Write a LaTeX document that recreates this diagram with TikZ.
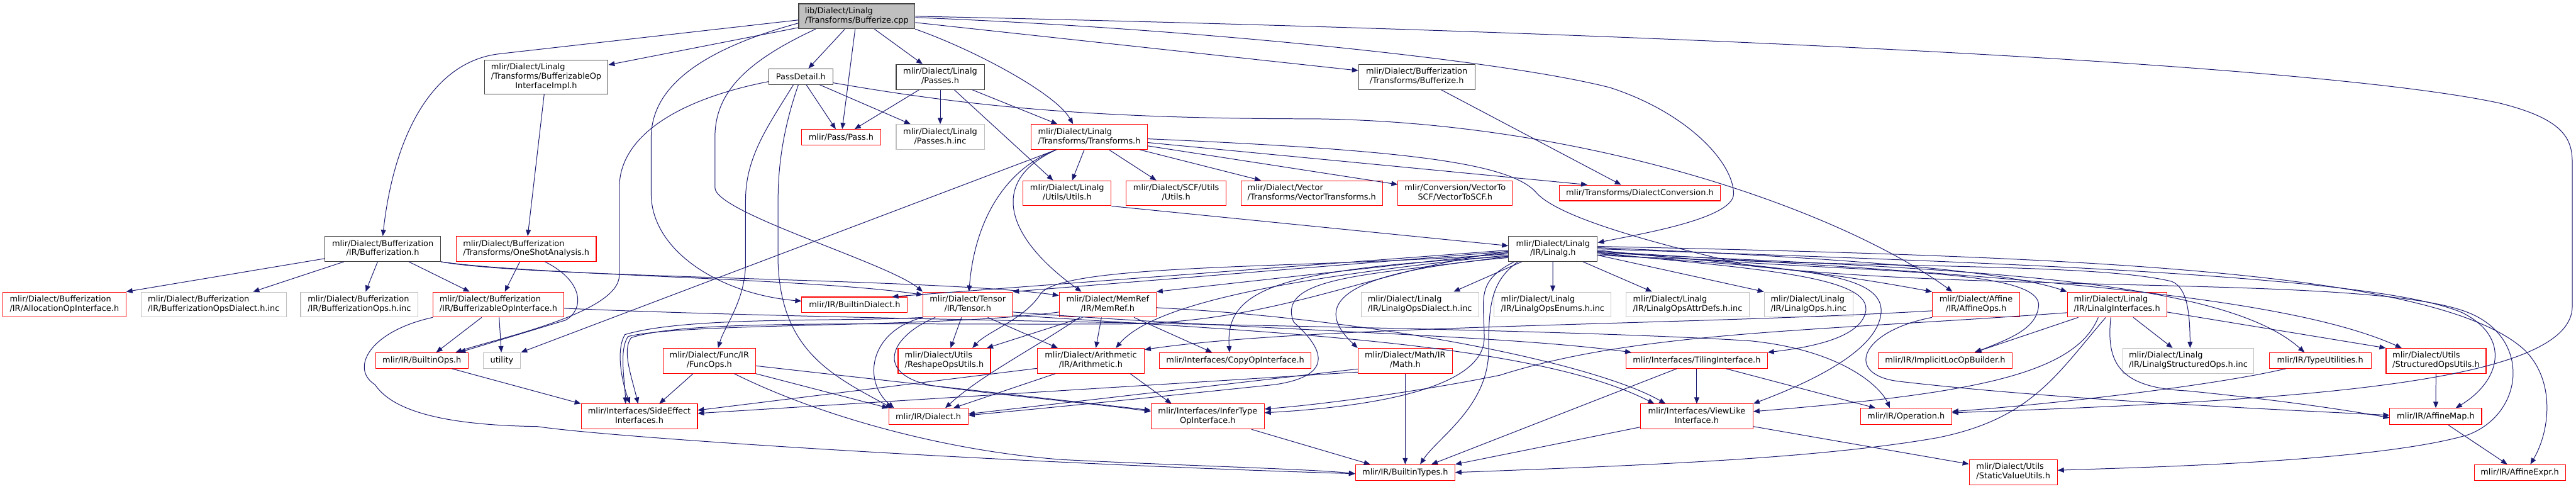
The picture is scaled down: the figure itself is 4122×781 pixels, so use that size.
\documentclass[tikz,border=0pt]{standalone}
\usepackage{fontspec}
\setmainfont{DejaVu Sans}
\usetikzlibrary{arrows.meta}
\definecolor{edgec}{HTML}{191970}
\definecolor{redb}{HTML}{FF0000}
\definecolor{grayb}{HTML}{BFBFBF}
\definecolor{blackb}{HTML}{404040}
\definecolor{mainfill}{HTML}{BFBFBF}
\newcommand{\dtwo}[2]{\begin{tabular}{@{}l@{}}#1\\\multicolumn{1}{@{}c@{}}{#2}\end{tabular}}
\newcommand{\dthree}[3]{\begin{tabular}{@{}l@{}}#1\\#2\\\multicolumn{1}{@{}c@{}}{#3}\end{tabular}}
\tikzset{
  nd/.style={draw, rectangle, inner sep=0pt, line width=1.1pt, font=\fontsize{13}{15}\selectfont, text=black},
  rn/.style={nd, draw=redb},
  gn/.style={nd, draw=grayb},
  kn/.style={nd, draw=blackb},
  sz/.style 2 args={minimum width=#1pt, minimum height=#2pt},
  edg/.style={draw=edgec, line width=1pt, -{Triangle[length=10pt,width=8pt]}},
}
\begin{document}
\begin{tikzpicture}[x=1pt,y=-1pt]
\useasboundingbox (0,0) rectangle (4122,781);
% ---------- nodes ----------
\node[kn, sz={186}{40}, fill=mainfill] (main) at (1371,26) {\dtwo{lib/Dialect/Linalg}{/Transforms/Bufferize.cpp}};
\node[kn, sz={198}{54}] (BOIImpl) at (874,123) {\dthree{mlir/Dialect/Linalg}{/Transforms/BufferizableOp}{InterfaceImpl.h}};
\node[kn, sz={103}{25}] (PassDetail) at (1281.5,122.5) {PassDetail.h};
\node[kn, sz={141}{40}] (LPasses) at (1504.5,123) {\dtwo{mlir/Dialect/Linalg}{/Passes.h}};
\node[kn, sz={186}{40}] (BufH) at (2267,123) {\dtwo{mlir/Dialect/Bufferization}{/Transforms/Bufferize.h}};
\node[rn, sz={126}{25}] (PassH) at (1346,219.5) {mlir/Pass/Pass.h};
\node[gn, sz={141}{40}] (PassesInc) at (1504.5,219) {\dtwo{mlir/Dialect/Linalg}{/Passes.h.inc}};
\node[rn, sz={186}{40}] (TransH) at (1743,219) {\dtwo{mlir/Dialect/Linalg}{/Transforms/Transforms.h}};
\node[rn, sz={141}{40}] (LUtils) at (1707.5,309) {\dtwo{mlir/Dialect/Linalg}{/Utils/Utils.h}};
\node[rn, sz={160}{40}] (SCFUtils) at (1882,309) {\dtwo{mlir/Dialect/SCF/Utils}{/Utils.h}};
\node[rn, sz={226}{40}] (VecTrans) at (2099,309) {\dtwo{mlir/Dialect/Vector}{/Transforms/VectorTransforms.h}};
\node[rn, sz={183}{40}] (VecToSCF) at (2328.5,309) {\dtwo{mlir/Conversion/VectorTo}{SCF/VectorToSCF.h}};
\node[rn, sz={258}{25}] (DialConv) at (2624,308.5) {mlir/Transforms/DialectConversion.h};
\node[kn, sz={185}{40}] (BufIR) at (612.5,398) {\dtwo{mlir/Dialect/Bufferization}{/IR/Bufferization.h}};
\node[rn, sz={224}{40}] (OneShot) at (842,398) {\dtwo{mlir/Dialect/Bufferization}{/Transforms/OneShotAnalysis.h}};
\node[kn, sz={142}{40}] (LinalgH) at (2485,398) {\dtwo{mlir/Dialect/Linalg}{/IR/Linalg.h}};
\node[rn, sz={197}{40}] (AllocOp) at (103,487) {\dtwo{mlir/Dialect/Bufferization}{/IR/AllocationOpInterface.h}};
\node[gn, sz={232}{40}] (BufOpsDialInc) at (342,487) {\dtwo{mlir/Dialect/Bufferization}{/IR/BufferizationOpsDialect.h.inc}};
\node[gn, sz={188}{40}] (BufOpsInc) at (575,487) {\dtwo{mlir/Dialect/Bufferization}{/IR/BufferizationOps.h.inc}};
\node[rn, sz={209}{40}] (BOI) at (797.5,487) {\dtwo{mlir/Dialect/Bufferization}{/IR/BufferizableOpInterface.h}};
\node[rn, sz={169}{25}] (BuiltinDialect) at (1367.5,487.5) {mlir/IR/BuiltinDialect.h};
\node[rn, sz={143}{40}] (Tensor) at (1548.5,487) {\dtwo{mlir/Dialect/Tensor}{/IR/Tensor.h}};
\node[rn, sz={155}{40}] (MemRef) at (1772.5,487) {\dtwo{mlir/Dialect/MemRef}{/IR/MemRef.h}};
\node[gn, sz={188}{40}] (LOpsDialInc) at (2272,487) {\dtwo{mlir/Dialect/Linalg}{/IR/LinalgOpsDialect.h.inc}};
\node[gn, sz={187}{40}] (LOpsEnumsInc) at (2484.5,487) {\dtwo{mlir/Dialect/Linalg}{/IR/LinalgOpsEnums.h.inc}};
\node[gn, sz={197}{40}] (LOpsAttrInc) at (2700.5,487) {\dtwo{mlir/Dialect/Linalg}{/IR/LinalgOpsAttrDefs.h.inc}};
\node[gn, sz={142}{40}] (LOpsInc) at (2894,487) {\dtwo{mlir/Dialect/Linalg}{/IR/LinalgOps.h.inc}};
\node[rn, sz={140}{40}] (AffineOps) at (3162,487) {\dtwo{mlir/Dialect/Affine}{/IR/AffineOps.h}};
\node[rn, sz={159}{40}] (LInterfaces) at (3387.5,487) {\dtwo{mlir/Dialect/Linalg}{/IR/LinalgInterfaces.h}};
\node[rn, sz={148}{25}] (BuiltinOps) at (675,576.5) {mlir/IR/BuiltinOps.h};
\node[gn, sz={60}{25}] (utility) at (803,576.5) {utility};
\node[rn, sz={148}{40}] (FuncOps) at (1135,577) {\dtwo{mlir/Dialect/Func/IR}{/FuncOps.h}};
\node[rn, sz={148}{40}] (Reshape) at (1511,577) {\dtwo{mlir/Dialect/Utils}{/ReshapeOpsUtils.h}};
\node[rn, sz={171}{40}] (Arith) at (1745.5,577) {\dtwo{mlir/Dialect/Arithmetic}{/IR/Arithmetic.h}};
\node[rn, sz={243}{25}] (CopyOp) at (1976.5,576.5) {mlir/Interfaces/CopyOpInterface.h};
\node[rn, sz={151}{40}] (Math) at (2248.5,577) {\dtwo{mlir/Dialect/Math/IR}{/Math.h}};
\node[rn, sz={226}{25}] (Tiling) at (2715,576.5) {mlir/Interfaces/TilingInterface.h};
\node[rn, sz={215}{25}] (ImplicitLoc) at (3112.5,576.5) {mlir/IR/ImplicitLocOpBuilder.h};
\node[gn, sz={209}{40}] (LStructInc) at (3501.5,577) {\dtwo{mlir/Dialect/Linalg}{/IR/LinalgStructuredOps.h.inc}};
\node[rn, sz={163}{25}] (TypeUtil) at (3712.5,576.5) {mlir/IR/TypeUtilities.h};
\node[rn, sz={160}{40}] (StructUtils) at (3898,577) {\dtwo{mlir/Dialect/Utils}{/StructuredOpsUtils.h}};
\node[rn, sz={186}{40}] (SideEff) at (1023,666) {\dtwo{mlir/Interfaces/SideEffect}{Interfaces.h}};
\node[rn, sz={127}{26}] (DialectH) at (1485.5,666) {mlir/IR/Dialect.h};
\node[rn, sz={181}{40}] (InferType) at (1932.5,666) {\dtwo{mlir/Interfaces/InferType}{OpInterface.h}};
\node[rn, sz={180}{40}] (ViewLike) at (2715,666) {\dtwo{mlir/Interfaces/ViewLike}{Interface.h}};
\node[rn, sz={146}{26}] (OperationH) at (3050,666) {mlir/IR/Operation.h};
\node[rn, sz={147}{26}] (AffineMap) at (3897.5,666) {mlir/IR/AffineMap.h};
\node[rn, sz={159}{25}] (BuiltinTypes) at (2248.5,755.5) {mlir/IR/BuiltinTypes.h};
\node[rn, sz={141}{40}] (StaticVal) at (3221.5,755) {\dtwo{mlir/Dialect/Utils}{/StaticValueUtils.h}};
\node[rn, sz={146}{25}] (AffineExpr) at (4032,755.5) {mlir/IR/AffineExpr.h};
% ---------- edges: main ----------
\draw[edg] ([yshift=-6pt]main.west) -- (800,86) .. controls (690,98) and (630,220) .. (BufIR.north);
\draw[edg] (main) -- (BOIImpl);
\draw[edg] (main) -- (PassDetail);
\draw[edg] (main) -- (PassH);
\draw[edg] (main) -- (LPasses);
\draw[edg] (main.south east) .. controls (1560,80) and (1690,150) .. ([xshift=-26pt]TransH.north);
\draw[edg] (main) -- (BufH);
\draw[edg] ([yshift=-2pt]main.east) .. controls (1900,45) and (2400,95) .. (2576,140) .. controls (2700,180) and (2774,260) .. (2774,310) .. controls (2774,350) and (2620,375) .. ([yshift=10pt]LinalgH.east);
\draw[edg] (main.east) .. controls (2600,50) and (3700,100) .. (4000,165) .. controls (4100,190) and (4116,220) .. (4116,260) -- (4116,490) .. controls (4116,610) and (3700,640) .. ([yshift=6pt]OperationH.east);
\draw[edg] ([yshift=-11pt]main.west) .. controls (1120,80) and (1042,140) .. (1042,220) -- (1042,310) .. controls (1042,400) and (1150,470) .. ([yshift=6pt]BuiltinDialect.west);
\draw[edg] ([xshift=-66pt]main.south) .. controls (1190,100) and (1144,150) .. (1144,220) -- (1144,300) .. controls (1144,340) and (1420,420) .. (Tensor.north west);
% ---------- PassDetail ----------
\draw[edg] ([yshift=-8pt]PassDetail.west) .. controls (1080,160) and (991,220) .. (991,300) -- (991,440) .. controls (991,500) and (800,540) .. ([xshift=54pt]BuiltinOps.north);
\draw[edg] ([xshift=-12pt]PassDetail.south) .. controls (1230,200) and (1193,250) .. (1193,320) -- (1193,420) .. controls (1193,480) and (1160,520) .. ([xshift=14pt]FuncOps.north);
\draw[edg] ([xshift=-4pt]PassDetail.south) .. controls (1255,200) and (1245,260) .. (1245,320) -- (1245,420) .. controls (1250,560) and (1330,600) .. ([xshift=6pt]DialectH.north west);
\draw[edg] (PassDetail) -- (PassH);
\draw[edg] (PassDetail) -- (PassesInc);
\draw[edg] ([yshift=-10pt]PassDetail.east) .. controls (1550,170) and (1750,190) .. (2100,190) .. controls (2550,195) and (2950,340) .. ([xshift=-38pt]AffineOps.north);
% ---------- BOIImpl, LPasses, BufH ----------
\draw[edg] (BOIImpl) -- (OneShot);
\draw[edg] (LPasses) -- (PassH);
\draw[edg] (LPasses) -- (PassesInc);
\draw[edg] (LPasses) -- (LUtils);
\draw[edg] (LPasses) -- (TransH);
\draw[edg] (BufH) -- ([xshift=-30pt]DialConv.north);
% ---------- TransH ----------
\draw[edg] (TransH) -- (LUtils);
\draw[edg] (TransH) -- (SCFUtils);
\draw[edg] (TransH) -- (VecTrans);
\draw[edg] (TransH) -- (VecToSCF);
\draw[edg] (TransH) -- ([xshift=-84pt]DialConv.north);
\draw[edg] ([xshift=-53pt]TransH.south) .. controls (1610,270) and (1560,350) .. ([xshift=2pt]Tensor.north);
\draw[edg] ([xshift=-53pt]TransH.south) .. controls (1580,290) and (1610,380) .. ([xshift=-42pt]MemRef.north);
\draw[edg] ([xshift=-53pt]TransH.south) -- (utility.north east);
\draw[edg] ([yshift=-3pt]TransH.east) .. controls (2250,240) and (2420,260) .. (2460,310) .. controls (2500,350) and (2650,390) .. (2800,425) .. controls (3200,470) and (3800,440) .. (3950,500) .. controls (4050,540) and (4040,660) .. (3950,695) .. controls (3800,740) and (3400,748) .. ([yshift=3pt]StaticVal.east);
% ---------- LUtils ----------
\draw[edg] (LUtils.south east) -- ([yshift=5pt]LinalgH.west);
% ---------- BufIR ----------
\draw[edg] (BufIR) -- (AllocOp.north east);
\draw[edg] (BufIR) -- ([xshift=63pt]BufOpsDialInc.north);
\draw[edg] (BufIR) -- ([xshift=10pt]BufOpsInc.north);
\draw[edg] (BufIR) -- ([xshift=-46pt]BOI.north);
\draw[edg] (BufIR.south east) .. controls (850,440) and (1300,445) .. ([yshift=-5pt]Tensor.north west);
\draw[edg] (BufIR.south east) .. controls (850,445) and (1500,445) .. ([yshift=-6pt]MemRef.north west);
% ---------- OneShot ----------
\draw[edg] (OneShot) -- (BOI);
\draw[edg] ([xshift=30pt]OneShot.south) .. controls (935,450) and (935,495) .. (905,512) -- ([xshift=60pt]BuiltinOps.north);
% ---------- BOI ----------
\draw[edg] (BOI) -- ([xshift=23pt]BuiltinOps.north);
\draw[edg] (BOI) -- (utility);
\draw[edg] (BOI.south west) .. controls (590,530) and (560,590) .. (600,615) .. controls (630,660) and (720,680) .. (860,682) .. controls (980,700) and (1600,740) .. ([yshift=-2pt]BuiltinTypes.west);
\draw[edg] ([yshift=-6pt]BOI.east) .. controls (1400,515) and (2400,520) .. (2800,545) .. controls (2950,560) and (3010,620) .. ([xshift=-26pt]OperationH.north);
% ---------- BuiltinOps, FuncOps ----------
\draw[edg] (BuiltinOps) -- (SideEff.north west);
\draw[edg] ([xshift=-26pt]FuncOps.south) -- ([xshift=32pt]SideEff.north);
\draw[edg] ([yshift=-8pt]FuncOps.east) -- ([yshift=10pt]InferType.west);
\draw[edg] (FuncOps.south east) -- (DialectH.north west);
\draw[edg] ([xshift=40pt]FuncOps.south) .. controls (1300,660) and (1500,720) .. (1700,735) .. controls (1900,745) and (2100,750) .. ([yshift=-2pt]BuiltinTypes.west);
% ---------- Tensor ----------
\draw[edg] ([xshift=-10pt]Tensor.south) -- ([xshift=10pt]Reshape.north);
\draw[edg] ([xshift=32pt]Tensor.south) -- ([xshift=-53pt]Arith.north);
\draw[edg] (Tensor.south west) .. controls (1390,530) and (1380,610) .. ([xshift=-55pt]DialectH.north);
\draw[edg] ([xshift=-52pt]Tensor.south) .. controls (1420,540) and (1400,600) .. (1494,617) .. controls (1600,632) and (1750,645) .. ([yshift=8pt]InferType.west);
\draw[edg] (Tensor.south west) .. controls (1350,515) and (1100,505) .. (1000,535) .. controls (985,560) and (995,610) .. ([xshift=-15pt]SideEff.north);
\draw[edg] ([yshift=-12pt]Tensor.east) .. controls (2000,528) and (2400,535) .. ([xshift=9pt]Tiling.north west);
\draw[edg] ([yshift=-17pt]Tensor.east) .. controls (2000,530) and (2450,545) .. ([xshift=-68pt]ViewLike.north);
% ---------- MemRef ----------
\draw[edg] ([xshift=-40pt]MemRef.south) -- ([xshift=68pt]Reshape.north);
\draw[edg] ([xshift=-10pt]MemRef.south) -- ([xshift=8pt]Arith.north);
\draw[edg] ([xshift=42pt]MemRef.south) -- ([xshift=-37pt]CopyOp.north);
\draw[edg] ([xshift=-45pt]MemRef.south) .. controls (1650,560) and (1570,600) .. ([xshift=27pt]DialectH.north);
\draw[edg] ([yshift=-12pt]MemRef.west) .. controls (1500,525) and (1100,515) .. (1005,538) .. controls (990,560) and (1000,610) .. ([xshift=-22pt]SideEff.north);
\draw[edg] ([yshift=-5pt]MemRef.east) .. controls (2200,510) and (2550,580) .. ([xshift=-50pt]ViewLike.north);
% ---------- Arith, Math ----------
\draw[edg] ([xshift=-57pt]Arith.south) -- ([xshift=40pt]DialectH.north);
\draw[edg] ([xshift=63pt]Arith.south) -- ([xshift=-58pt]InferType.north);
\draw[edg] ([yshift=-12pt]Arith.west) -- ([yshift=10pt]SideEff.east);
\draw[edg] (Math) -- (BuiltinTypes);
\draw[edg] ([yshift=-13pt]Math.west) -- ([yshift=4pt]DialectH.east);
\draw[edg] ([yshift=-18pt]Math.west) -- ([yshift=5pt]SideEff.east);
% ---------- InferType, Tiling, ViewLike ----------
\draw[edg] ([xshift=70pt]InferType.south) -- ([xshift=-56pt]BuiltinTypes.north);
\draw[edg] ([xshift=-32pt]Tiling.south) -- ([xshift=42pt]BuiltinTypes.north);
\draw[edg] (Tiling) -- (ViewLike);
\draw[edg] ([xshift=47pt]Tiling.south) -- ([xshift=-49pt]OperationH.north);
\draw[edg] ([yshift=-17pt]ViewLike.west) -- (BuiltinTypes.north east);
\draw[edg] ([yshift=-16pt]ViewLike.east) -- ([yshift=13pt]StaticVal.west);
% ---------- LInterfaces ----------
\draw[edg] ([xshift=-62pt]LInterfaces.south) -- ([xshift=47pt]ImplicitLoc.north);
\draw[edg] ([xshift=-30pt]LInterfaces.south) .. controls (3320,600) and (3150,630) .. ([yshift=8pt]ViewLike.east);
\draw[edg] ([xshift=-18pt]LInterfaces.south) .. controls (3290,600) and (3250,670) .. (3100,700) .. controls (2900,735) and (2600,745) .. (BuiltinTypes.east);
\draw[edg] ([xshift=-10pt]LInterfaces.south) .. controls (3370,580) and (3390,620) .. (3500,625) .. controls (3650,640) and (3750,655) .. ([yshift=-2pt]AffineMap.west);
\draw[edg] ([xshift=26pt]LInterfaces.south) -- ([xshift=-25pt]LStructInc.north);
\draw[edg] ([yshift=-12pt]LInterfaces.east) -- (StructUtils.north west);
\draw[edg] ([yshift=-13pt]LInterfaces.west) .. controls (2900,530) and (2620,530) .. (2400,600) .. controls (2250,630) and (2100,648) .. ([yshift=12pt]InferType.east);
% ---------- AffineOps, TypeUtil, StructUtils, AffineMap ----------
\draw[edg] ([yshift=-10pt]AffineOps.west) .. controls (2700,520) and (2100,520) .. ([yshift=18pt]Arith.east);
\draw[edg] (AffineOps.south west) .. controls (2975,530) and (2950,600) .. (3040,610) .. controls (3300,640) and (3650,655) .. ([yshift=2pt]AffineMap.west);
\draw[edg] ([xshift=-55pt]TypeUtil.south) .. controls (3550,615) and (3300,645) .. ([yshift=8pt]OperationH.east);
\draw[edg] (StructUtils) -- (AffineMap);
\draw[edg] ([xshift=20pt]AffineMap.south) -- ([xshift=-20pt]AffineExpr.north);
% ---------- LinalgH ----------
\draw[edg] ([xshift=-50pt]LinalgH.south) -- ([xshift=54pt]LOpsDialInc.north);
\draw[edg] (LinalgH) -- (LOpsEnumsInc);
\draw[edg] ([xshift=48pt]LinalgH.south) -- ([xshift=-57pt]LOpsAttrInc.north);
\draw[edg] ([yshift=-10pt]LinalgH.east) -- (LOpsInc.north west);
\draw[edg] ([yshift=-4pt]LinalgH.east) .. controls (2800,420) and (2950,440) .. (AffineOps.north west);
\draw[edg] ([yshift=2pt]LinalgH.east) .. controls (2900,410) and (3200,430) .. (LInterfaces.north west);
\draw[edg] ([yshift=-2pt]LinalgH.east) .. controls (2900,440) and (3270,420) .. (3262,490) .. controls (3258,525) and (3220,540) .. ([xshift=48pt]ImplicitLoc.north);
\draw[edg] ([yshift=-6pt]LinalgH.east) .. controls (2800,430) and (3000,440) .. (2985,500) .. controls (2975,540) and (2900,555) .. (Tiling.north east);
\draw[edg] ([yshift=-8pt]LinalgH.east) .. controls (2850,430) and (3015,430) .. (3010,500) .. controls (3005,560) and (2900,610) .. (ViewLike.north east);
\draw[edg] ([yshift=-10pt]LinalgH.east) .. controls (3000,430) and (3350,420) .. (3475,450) .. controls (3500,460) and (3504,500) .. ([xshift=3pt]LStructInc.north);
\draw[edg] ([yshift=-6pt]LinalgH.east) .. controls (3100,430) and (3550,440) .. ([xshift=-25pt]TypeUtil.north);
\draw[edg] ([yshift=-4pt]LinalgH.east) .. controls (3200,440) and (3650,470) .. ([xshift=-55pt]StructUtils.north);
\draw[edg] (LinalgH.east) .. controls (3200,420) and (3800,440) .. (3940,500) .. controls (4020,540) and (4000,610) .. ([xshift=32pt]AffineMap.north);
\draw[edg] ([yshift=4pt]LinalgH.east) .. controls (3300,410) and (3900,430) .. (4040,560) .. controls (4090,610) and (4080,690) .. ([xshift=17pt]AffineExpr.north);
\draw[edg] ([yshift=-2pt]LinalgH.west) -- ([xshift=60pt]BuiltinDialect.north);
\draw[edg] ([yshift=-4pt]LinalgH.west) -- (Tensor.north east);
\draw[edg] ([yshift=-6pt]LinalgH.west) -- (MemRef.north east);
\draw[edg] ([yshift=-8pt]LinalgH.west) .. controls (2100,430) and (1700,420) .. (1665,470) .. controls (1640,510) and (1580,530) .. ([xshift=45pt]Reshape.north);
\draw[edg] ([yshift=-10pt]LinalgH.west) .. controls (2100,440) and (1850,480) .. ([xshift=40pt]Arith.north);
\draw[edg] ([yshift=-12pt]LinalgH.west) .. controls (2050,430) and (1960,460) .. ([xshift=-9pt]CopyOp.north);
\draw[edg] ([yshift=-14pt]LinalgH.west) .. controls (2200,430) and (2080,470) .. (Math.north west);
\draw[edg] ([yshift=-4pt]LinalgH.west) .. controls (2200,430) and (2050,515) .. (1800,518) .. controls (1400,520) and (1100,510) .. (1010,540) .. controls (995,560) and (1010,600) .. ([xshift=-2pt]SideEff.north);
\draw[edg] ([yshift=-12pt]LinalgH.west) .. controls (2200,440) and (2040,440) .. (2070,515) .. controls (2115,555) and (2140,600) .. (2040,615) .. controls (1800,640) and (1650,655) .. ([yshift=2pt]DialectH.east);
\draw[edg] ([xshift=-62pt]LinalgH.south) .. controls (2360,450) and (2375,480) .. (2375,540) .. controls (2375,620) and (2200,650) .. ([yshift=6pt]InferType.east);
\draw[edg] ([xshift=-56pt]LinalgH.south) .. controls (2385,450) and (2382,490) .. (2382,560) .. controls (2382,650) and (2300,700) .. ([xshift=24pt]BuiltinTypes.north);
\end{tikzpicture}
\end{document}
